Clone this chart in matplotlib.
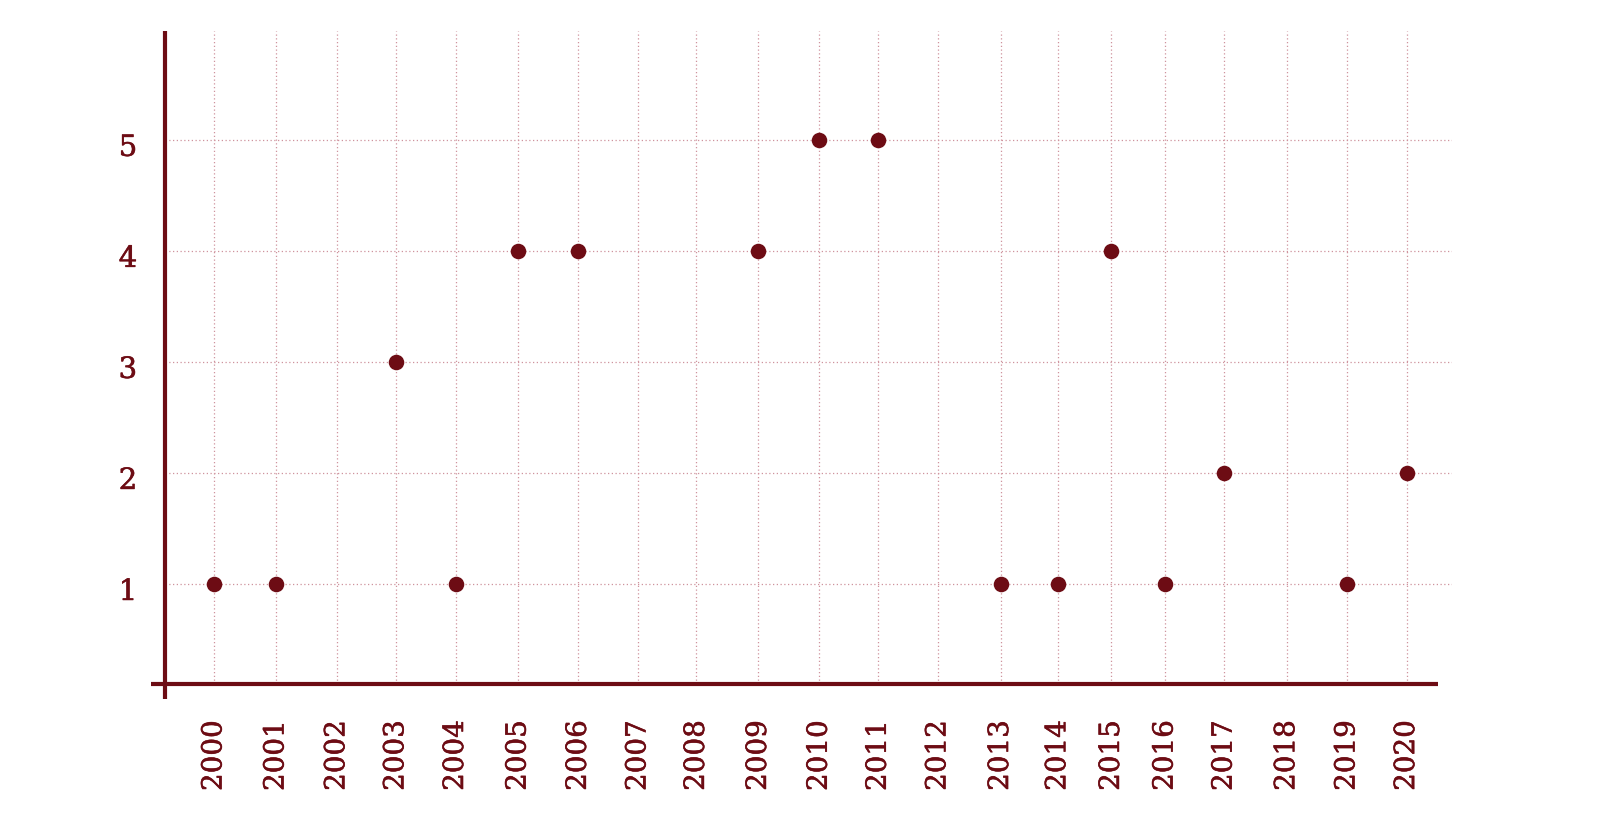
import matplotlib
matplotlib.use("Agg")
import matplotlib.pyplot as plt
import matplotlib.transforms as mtransforms
import matplotlib.patheffects as pe
from matplotlib.lines import Line2D

# Tick labels (years) and their positions on the time axis (decimal years)
years = ["2000", "2001", "2002", "2003", "2004", "2005", "2006", "2007", "2008", "2009",
         "2010", "2011", "2012", "2013", "2014", "2015", "2016", "2017", "2018", "2019", "2020"]
year_pos = [2000.00, 2001.04, 2002.06, 2003.05, 2004.05, 2005.10, 2006.11, 2007.11, 2008.09,
            2009.13, 2010.15, 2011.14, 2012.14, 2013.19, 2014.15, 2015.05, 2015.95, 2016.94,
            2017.99, 2019.00, 2020.00]

# Data points: which years carry a point and its value
point_years = ["2000", "2001", "2003", "2004", "2005", "2006", "2009", "2010", "2011",
               "2013", "2014", "2015", "2016", "2017", "2019", "2020"]
point_values = [1, 1, 3, 1, 4, 4, 4, 5, 5, 1, 1, 4, 1, 2, 1, 2]

y_ticks = [1, 2, 3, 4, 5]

DARK = "#6d0c14"
GRID = "#cf939d"

W, H = 1600, 838
fig = plt.figure(figsize=(W / 100, H / 100), dpi=100)
left_px, right_px, top_px, bottom_px = 165, 1452, 31, 684
ax = fig.add_axes([left_px / W, 1 - bottom_px / H,
                   (right_px - left_px) / W, (bottom_px - top_px) / H])

pos_map = dict(zip(years, year_pos))
px = [pos_map[y] for y in point_years]

ax.set_xlim(1999.178, 2020.761)
ax.set_ylim(0.099, 5.98)

heavy = [pe.withStroke(linewidth=0.4, foreground=DARK)]

ax.set_xticks(year_pos)
ax.set_xticklabels(years, rotation=90, family="DejaVu Serif", fontsize=20, color=DARK,
                   va="top", ha="center")
ax.set_yticks(y_ticks)
ax.set_yticklabels([str(v) for v in y_ticks], family="DejaVu Serif", fontsize=21,
                   color=DARK, va="center_baseline")
ax.tick_params(axis="x", length=0, pad=26)
ax.tick_params(axis="y", length=0, pad=20)

shift = mtransforms.ScaledTranslation(0, -5 / 100, fig.dpi_scale_trans)
for lab in ax.get_yticklabels():
    lab.set_transform(lab.get_transform() + shift)
    lab.set_path_effects(heavy)
for lab in ax.get_xticklabels():
    lab.set_path_effects(heavy)

ax.grid(True, color=GRID, linestyle=(0, (1, 2)), linewidth=0.9)
ax.set_axisbelow(True)

for s in ax.spines.values():
    s.set_visible(False)

# axis lines
ax.add_line(Line2D([-14 / (right_px - left_px), (1437.7 - left_px) / (right_px - left_px)],
                   [0, 0], transform=ax.transAxes, color=DARK, linewidth=3.0,
                   clip_on=False, solid_capstyle="butt"))
ax.add_line(Line2D([0, 0], [-(699 - bottom_px) / (bottom_px - top_px), 1.0],
                   transform=ax.transAxes, color=DARK, linewidth=3.0,
                   clip_on=False, solid_capstyle="butt"))

ax.scatter(px, point_values, s=125, color=DARK, zorder=5, linewidths=0)

fig.savefig("out.png", dpi=100, facecolor="white")
